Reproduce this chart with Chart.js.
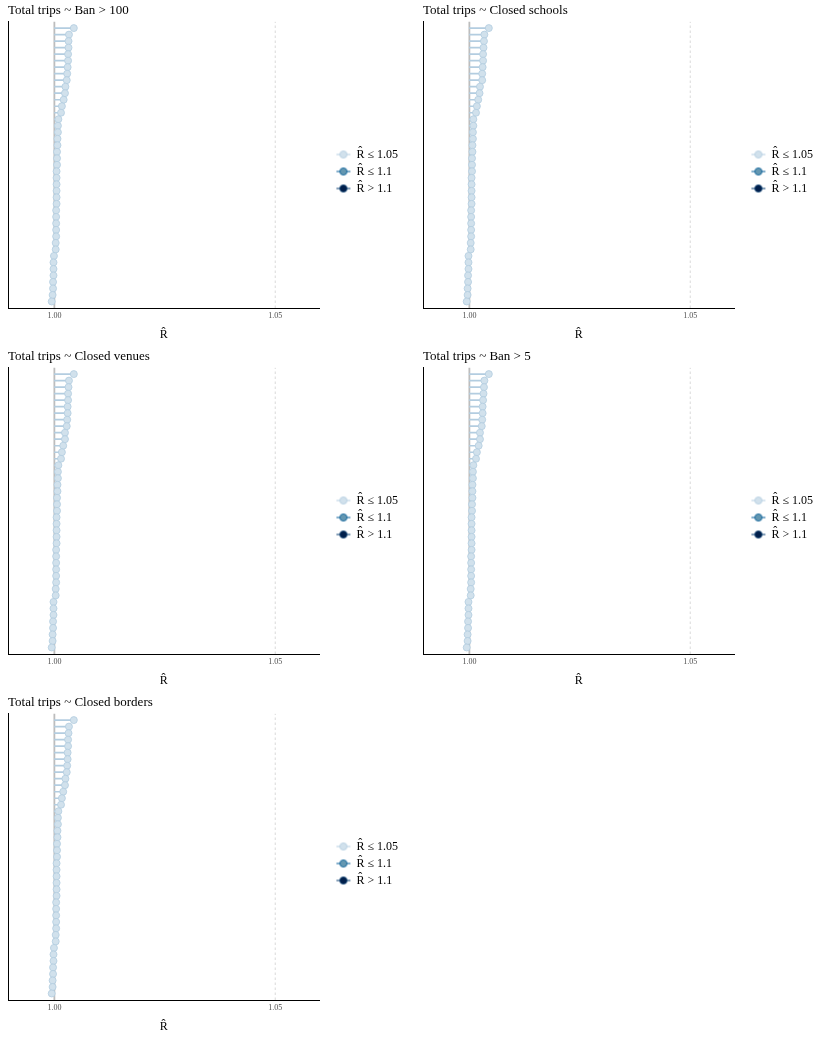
<!DOCTYPE html>
<html>
<head>
<meta charset="utf-8">
<script src="https://cdn.jsdelivr.net/npm/chart.js@4.4.1/dist/chart.umd.min.js"></script>
<style>
  html, body { margin: 0; padding: 0; background: #fff; }
  #wrap { position: relative; width: 830px; height: 1038px; }
  .panel { position: absolute; width: 415px; height: 346px; }
  .panel canvas { display: block; }
</style>
</head>
<body>
<div id="wrap"></div>
<script>
// panel titles
const titles = [
  'Total trips ~ Ban > 100',
  'Total trips ~ Closed schools',
  'Total trips ~ Closed venues',
  'Total trips ~ Ban > 5',
  'Total trips ~ Closed borders'
];

// R-hat values per panel, listed from top row to bottom row (sorted)
const rhatBan100 = [1.0044, 1.0033, 1.0032, 1.0032, 1.0031, 1.0031, 1.0030, 1.0029, 1.0028, 1.0025, 1.0024, 1.0021, 1.0017, 1.0015,
  1.0009, 1.0008, 1.0008, 1.0007, 1.0007, 1.0006, 1.0006, 1.0006, 1.0005, 1.0005, 1.0005, 1.0005, 1.0005, 1.0005, 1.0004, 1.0004, 1.0004, 1.0004, 1.0004, 1.0003, 1.0003,
  0.9999, 0.9998, 0.9998, 0.9998, 0.9997, 0.9997, 0.9996, 0.9994];
const rhatSchools = [1.0044, 1.0034, 1.0033, 1.0032, 1.0031, 1.0031, 1.0030, 1.0029, 1.0029, 1.0024, 1.0023, 1.0020, 1.0017, 1.0015,
  1.0009, 1.0009, 1.0008, 1.0008, 1.0007, 1.0007, 1.0006, 1.0006, 1.0006, 1.0005, 1.0005, 1.0005, 1.0005, 1.0005, 1.0004, 1.0004, 1.0004, 1.0004, 1.0004, 1.0003, 1.0003,
  0.9998, 0.9998, 0.9998, 0.9997, 0.9997, 0.9996, 0.9996, 0.9994];
const rhatVenues = [1.0044, 1.0033, 1.0032, 1.0031, 1.0031, 1.0030, 1.0030, 1.0029, 1.0028, 1.0024, 1.0024, 1.0020, 1.0017, 1.0015,
  1.0009, 1.0008, 1.0008, 1.0007, 1.0007, 1.0006, 1.0006, 1.0006, 1.0005, 1.0005, 1.0005, 1.0005, 1.0005, 1.0004, 1.0004, 1.0004, 1.0004, 1.0004, 1.0004, 1.0003, 1.0003,
  0.9998, 0.9998, 0.9998, 0.9997, 0.9997, 0.9996, 0.9996, 0.9994];
const rhatBan5 = [1.0044, 1.0034, 1.0033, 1.0032, 1.0031, 1.0030, 1.0030, 1.0029, 1.0028, 1.0024, 1.0024, 1.0021, 1.0017, 1.0015,
  1.0009, 1.0008, 1.0008, 1.0007, 1.0007, 1.0007, 1.0006, 1.0006, 1.0005, 1.0005, 1.0005, 1.0005, 1.0005, 1.0005, 1.0004, 1.0004, 1.0004, 1.0004, 1.0004, 1.0003, 1.0003,
  0.9998, 0.9998, 0.9998, 0.9997, 0.9997, 0.9996, 0.9996, 0.9994];
const rhatBorders = [1.0044, 1.0033, 1.0032, 1.0031, 1.0031, 1.0030, 1.0030, 1.0029, 1.0028, 1.0025, 1.0024, 1.0020, 1.0017, 1.0015,
  1.0009, 1.0008, 1.0008, 1.0007, 1.0007, 1.0006, 1.0006, 1.0006, 1.0005, 1.0005, 1.0005, 1.0005, 1.0005, 1.0005, 1.0004, 1.0004, 1.0004, 1.0004, 1.0004, 1.0003, 1.0003,
  0.9999, 0.9998, 0.9998, 0.9997, 0.9997, 0.9996, 0.9996, 0.9994];

const panelData = [rhatBan100, rhatSchools, rhatVenues, rhatBan5, rhatBorders];

// x axis ticks and reference lines
const xTicks = [1.00, 1.05];
const refLine = 1.00;
const warnLine = 1.05;

// legend entries
const legendLabels = ['R\u0302 \u2264 1.05', 'R\u0302 \u2264 1.1', 'R\u0302 > 1.1'];
const legendFill = ['#d1e1ec', '#6497b1', '#011f4b'];
const legendEdge = ['#b3cde0', '#005b96', '#03396c'];

const serif = "'Liberation Serif', 'DejaVu Serif', serif";

// small legend key: a line with a dot on it
function makeKey(fill, edge) {
  const c = document.createElement('canvas');
  c.width = 16; c.height = 10;
  const g = c.getContext('2d');
  g.strokeStyle = edge; g.lineWidth = 1;
  g.beginPath(); g.moveTo(1, 5); g.lineTo(15, 5); g.stroke();
  g.fillStyle = fill; g.strokeStyle = edge; g.lineWidth = 0.8;
  g.beginPath(); g.arc(8, 5, 3.6, 0, Math.PI * 2); g.fill(); g.stroke();
  return c;
}
const keys = legendFill.map((f, i) => makeKey(f, legendEdge[i]));

const positions = [[0, 0], [415, 0], [0, 346], [415, 346], [0, 692]];
const wrap = document.getElementById('wrap');

panelData.forEach(function (vals, p) {
  const div = document.createElement('div');
  div.className = 'panel';
  div.style.left = positions[p][0] + 'px';
  div.style.top = positions[p][1] + 'px';
  const cv = document.createElement('canvas');
  cv.width = 415;
  cv.height = 346;
  div.appendChild(cv);
  wrap.appendChild(div);

  const n = vals.length;
  const rowY = vals.map((v, i) => n - i); // top row gets highest y

  new Chart(cv.getContext('2d'), {
    type: 'bar',
    data: {
      datasets: [
        {
          type: 'scatter',
          data: vals.map((v, i) => ({ x: v, y: rowY[i] })),
          backgroundColor: '#d1e1ec',
          borderColor: '#b3cde0',
          borderWidth: 0.8,
          pointRadius: 3.5,
          order: 0
        },
        {
          type: 'bar',
          data: vals.map((v, i) => ({ x: [refLine, v], y: rowY[i] })),
          backgroundColor: '#b3cde0',
          borderWidth: 0,
          barThickness: 1,
          order: 1
        },
        {
          type: 'line',
          data: [{ x: refLine, y: 0 }, { x: refLine, y: n + 1 }],
          borderColor: '#bdbdbd',
          borderWidth: 1.8,
          pointRadius: 0,
          order: 2
        },
        {
          type: 'line',
          data: [{ x: warnLine, y: 0 }, { x: warnLine, y: n + 1 }],
          borderColor: '#cfcfcf',
          borderWidth: 0.8,
          borderDash: [2.5, 2.5],
          pointRadius: 0,
          order: 3
        }
      ]
    },
    options: {
      indexAxis: 'y',
      responsive: false,
      animation: false,
      events: [],
      layout: { padding: { left: 8, right: 7, top: 0, bottom: 3 } },
      scales: {
        x: {
          type: 'linear',
          min: 0.9895,
          max: 1.0600,
          afterBuildTicks: function (scale) { scale.ticks = xTicks.map(v => ({ value: v })); },
          afterFit: function (scale) { scale.height = 35; },
          ticks: {
            font: { family: serif, size: 8 },
            color: '#4d4d4d',
            padding: 3,
            maxRotation: 0,
            callback: function (v) { return v.toFixed(2); }
          },
          grid: { display: false, drawTicks: false },
          border: { display: true, color: '#000', width: 1 },
          title: {
            display: true,
            text: 'R\u0302',
            font: { family: serif, size: 12 },
            color: '#000',
            padding: { top: 2, bottom: 1 }
          }
        },
        y: {
          type: 'linear',
          min: 0,
          max: n + 1,
          offset: false,
          afterFit: function (scale) { scale.width = 0; },
          ticks: { display: false },
          grid: { display: false, drawTicks: false, offset: false },
          border: { display: true, color: '#000', width: 1 }
        },
        gap: {
          // hidden spacer between plot and legend
          type: 'linear',
          axis: 'y',
          position: 'right',
          display: false,
          afterFit: function (scale) { scale.width = 12; }
        }
      },
      plugins: {
        tooltip: { enabled: false },
        title: {
          display: true,
          text: titles[p],
          align: 'start',
          color: '#000',
          font: { family: serif, size: 13, weight: 'normal' },
          padding: { top: 3, bottom: 3 }
        },
        legend: {
          position: 'right',
          onClick: null,
          labels: {
            usePointStyle: true,
            pointStyleWidth: 14,
            padding: 5,
            color: '#000',
            font: { family: serif, size: 12 },
            generateLabels: function () {
              return legendLabels.map((t, i) => ({
                text: t,
                pointStyle: keys[i],
                fillStyle: legendFill[i],
                strokeStyle: legendEdge[i],
                lineWidth: 0,
                hidden: false,
                datasetIndex: i
              }));
            }
          }
        }
      }
    }
  });
});
</script>
</body>
</html>
